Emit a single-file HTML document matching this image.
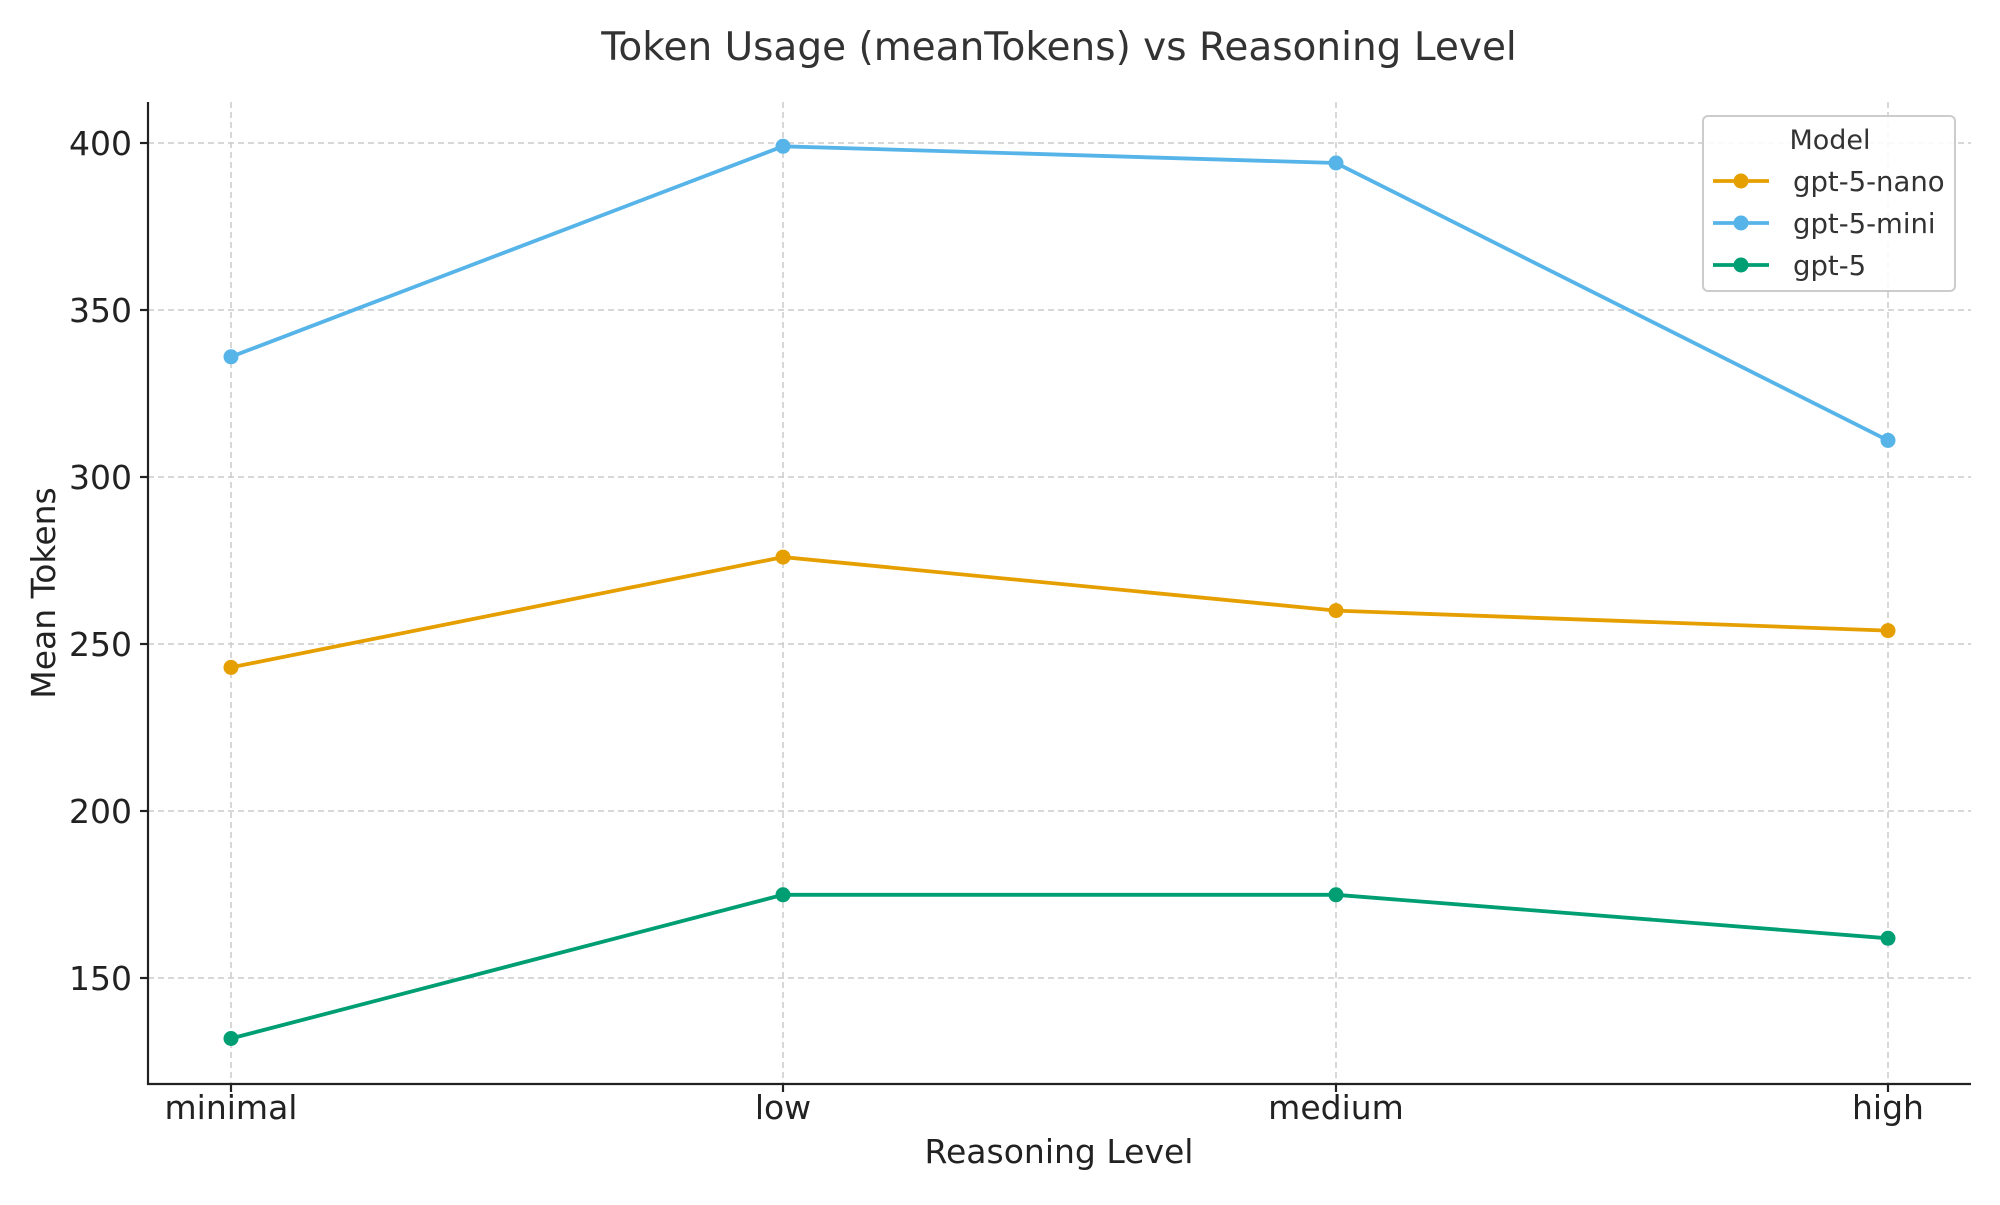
<!DOCTYPE html>
<html><head><meta charset="utf-8"><style>html,body{margin:0;padding:0;background:#fff}</style></head><body>
<svg width="2000" height="1200" xmlns="http://www.w3.org/2000/svg" font-family="DejaVu Sans, Liberation Sans, sans-serif">
<rect width="2000" height="1200" fill="#fff"/>
<text x="1059" y="60" font-size="39" text-anchor="middle" fill="#333">Token Usage (meanTokens) vs Reasoning Level</text>
<g stroke="#cccccc" stroke-width="1.5" stroke-dasharray="6,4">
<line x1="148" x2="1971" y1="143" y2="143"/>
<line x1="148" x2="1971" y1="310" y2="310"/>
<line x1="148" x2="1971" y1="477" y2="477"/>
<line x1="148" x2="1971" y1="644" y2="644"/>
<line x1="148" x2="1971" y1="811" y2="811"/>
<line x1="148" x2="1971" y1="978" y2="978"/>
<line x1="231" x2="231" y1="102" y2="1084"/>
<line x1="783" x2="783" y1="102" y2="1084"/>
<line x1="1336" x2="1336" y1="102" y2="1084"/>
<line x1="1888" x2="1888" y1="102" y2="1084"/>
</g>
<g stroke="#222" stroke-width="2.2">
<line x1="148" y1="102" x2="148" y2="1085"/>
<line x1="147" y1="1084" x2="1971" y2="1084"/>
<line x1="140" x2="148" y1="143" y2="143"/><line x1="140" x2="148" y1="310" y2="310"/><line x1="140" x2="148" y1="477" y2="477"/><line x1="140" x2="148" y1="644" y2="644"/><line x1="140" x2="148" y1="811" y2="811"/><line x1="140" x2="148" y1="978" y2="978"/>
<line y1="1084" y2="1092" x1="231" x2="231"/><line y1="1084" y2="1092" x1="783" x2="783"/><line y1="1084" y2="1092" x1="1336" x2="1336"/><line y1="1084" y2="1092" x1="1888" x2="1888"/>
</g>
<g font-size="33" fill="#222" text-anchor="end">
<text x="132" y="155">400</text><text x="132" y="322">350</text><text x="132" y="489">300</text><text x="132" y="656">250</text><text x="132" y="823">200</text><text x="132" y="990">150</text>
</g>
<g font-size="33" fill="#222" text-anchor="middle">
<text x="231" y="1119">minimal</text><text x="783" y="1119">low</text><text x="1336" y="1119">medium</text><text x="1888" y="1119">high</text>
<text x="1059" y="1163">Reasoning Level</text>
<text transform="translate(55,593) rotate(-90)">Mean Tokens</text>
</g>
<g fill="none" stroke-width="3.8">
<polyline stroke="#E69F00" points="231,667.4 783,557.1 1336,610.6 1888,630.6"/>
<polyline stroke="#56B4E9" points="231,356.8 783,146.3 1336,163 1888,440.4"/>
<polyline stroke="#009E73" points="231,1038.5 783,894.8 1336,894.8 1888,938.3"/>
</g>
<g fill="#E69F00"><circle cx="231" cy="667.4" r="7.5"/><circle cx="783" cy="557.1" r="7.5"/><circle cx="1336" cy="610.6" r="7.5"/><circle cx="1888" cy="630.6" r="7.5"/></g>
<g fill="#56B4E9"><circle cx="231" cy="356.8" r="7.5"/><circle cx="783" cy="146.3" r="7.5"/><circle cx="1336" cy="163" r="7.5"/><circle cx="1888" cy="440.4" r="7.5"/></g>
<g fill="#009E73"><circle cx="231" cy="1038.5" r="7.5"/><circle cx="783" cy="894.8" r="7.5"/><circle cx="1336" cy="894.8" r="7.5"/><circle cx="1888" cy="938.3" r="7.5"/></g>
<rect x="1703" y="116" width="252" height="175" rx="5" fill="#fff" fill-opacity="0.85" stroke="#cccccc" stroke-width="2"/>
<text x="1830" y="149" font-size="27" text-anchor="middle" fill="#333">Model</text>
<g font-size="27.5" fill="#333">
<line x1="1713" x2="1769" y1="181" y2="181" stroke="#E69F00" stroke-width="3.8"/><circle cx="1741" cy="181" r="7.5" fill="#E69F00"/><text x="1793" y="191">gpt-5-nano</text>
<line x1="1713" x2="1769" y1="223" y2="223" stroke="#56B4E9" stroke-width="3.8"/><circle cx="1741" cy="223" r="7.5" fill="#56B4E9"/><text x="1793" y="233">gpt-5-mini</text>
<line x1="1713" x2="1769" y1="265" y2="265" stroke="#009E73" stroke-width="3.8"/><circle cx="1741" cy="265" r="7.5" fill="#009E73"/><text x="1793" y="275">gpt-5</text>
</g>
</svg>
</body></html>
